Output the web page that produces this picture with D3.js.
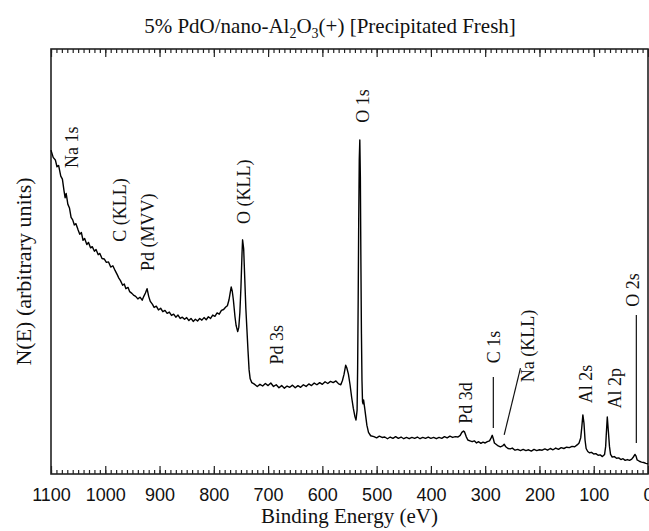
<!DOCTYPE html>
<html>
<head>
<meta charset="utf-8">
<script src="https://cdn.jsdelivr.net/npm/d3@7"></script>
<style>
  body { margin: 0; background: #fff; }
  .serif { font-family: "Liberation Serif", "Times New Roman", serif; fill: #111; }
  .tick text { font-family: "Liberation Sans", Arial, sans-serif; font-size: 18px; fill: #111; }
  .tick line { stroke: #222; stroke-width: 1.2; }
  .domain { display: none; }
</style>
</head>
<body>
<svg id="chart" width="649" height="531"></svg>
<script>
// binding energy (eV) and N(E)
var energy = [
  1100, 1096, 1092, 1089, 1086, 1082, 1079, 1076, 1074, 1072, 1069, 1066, 1063, 1060, 1057, 1054,
  1050, 1047, 1044, 1041, 1038, 1034, 1031, 1027, 1024, 1020, 1017, 1013, 1010, 1006, 1002, 998,
  994, 990, 986, 982, 978, 975, 972, 968, 965, 962, 958, 955, 951, 948, 944, 940, 936, 932, 929,
  926, 923, 920, 917, 913, 910, 906, 902, 898, 894, 890, 886, 882, 878, 874, 870, 866, 862, 858,
  854, 850, 846, 842, 838, 834, 830, 826, 822, 818, 814, 810, 806, 802, 798, 794, 790, 786, 782,
  778, 775, 772, 770, 768, 766, 764, 761, 759, 756, 754, 752, 750, 748, 747, 745, 743, 741, 739,
  737, 735, 733, 730, 726, 720, 715, 710, 705, 700, 695, 690, 685, 680, 675, 670, 665, 660, 655,
  650, 645, 640, 635, 630, 625, 620, 615, 610, 605, 600, 595, 590, 585, 580, 575, 570, 566, 563,
  560, 557, 555, 552, 549, 546, 543, 540, 538, 536, 535, 534, 533, 532, 531, 530, 529, 528, 527,
  526, 525, 524, 522, 520, 518, 515, 511, 505, 500, 495, 490, 485, 480, 475, 470, 465, 460, 455,
  450, 445, 440, 435, 430, 425, 420, 415, 410, 405, 400, 395, 390, 385, 380, 375, 370, 365, 360,
  355, 350, 346, 343, 340, 338, 335, 332, 328, 324, 320, 316, 312, 308, 304, 300, 296, 292, 289,
  287, 285, 283, 280, 276, 272, 268, 265, 262, 258, 254, 250, 245, 240, 235, 230, 225, 220, 215,
  210, 205, 200, 195, 190, 185, 180, 175, 170, 165, 160, 155, 150, 145, 140, 135, 130, 127, 124,
  122, 120, 118, 116, 114, 111, 108, 104, 100, 96, 92, 88, 84, 80, 78, 77, 75, 73, 71, 69, 66,
  62, 58, 54, 50, 46, 42, 38, 34, 30, 27, 24, 22, 20, 16, 12, 8, 4, 0
];
var counts = [
  76.2, 74.5, 73.9, 72.3, 72.6, 70.1, 69.4, 66.6, 65.0, 66.0, 63.5, 62.6, 60.4, 59.8, 58.6, 58.9,
  57.4, 56.4, 56.8, 55.0, 55.4, 54.0, 54.5, 53.2, 53.5, 52.4, 52.8, 51.6, 51.9, 50.7, 50.6, 49.8,
  49.9, 48.7, 49.0, 47.9, 46.9, 46.1, 45.5, 44.4, 44.7, 43.6, 43.9, 42.9, 42.5, 42.1, 41.8, 41.2, 41.6, 40.9, 41.8,
  42.6, 43.6, 41.8, 40.6, 39.9, 39.2, 39.5, 38.6, 39.0, 38.2, 38.5, 37.8, 38.1, 37.3, 37.6, 36.9, 37.4, 36.6, 36.9,
  36.4, 36.8, 36.1, 36.6, 35.9, 36.4, 36.0, 36.6, 36.2, 36.8, 36.3, 37.0, 36.6, 37.4, 37.1, 37.9, 37.6, 38.5, 38.7,
  39.3, 39.6, 41.0, 42.5, 44.0, 43.0, 41.0, 37.0, 35.0, 33.5, 34.5, 38.0, 44.0, 52.0, 55.1, 53.0, 46.0, 39.0, 34.0,
  29.0, 24.5, 22.4, 21.5, 21.2, 20.6, 21.1, 20.7, 21.3, 20.8, 21.4, 20.6, 21.0, 20.3, 20.8, 20.2, 20.7, 20.4, 20.9,
  20.3, 20.8, 20.4, 21.0, 20.6, 21.2, 20.8, 21.4, 21.0, 21.5, 21.1, 21.7, 21.3, 21.8, 21.5, 21.9, 21.2, 21.0, 22.0,
  23.5, 25.6, 25.0, 23.5, 21.0, 18.0, 15.5, 13.5, 12.7, 15.0, 25.0, 41.0, 60.0, 74.0, 78.6, 70.0, 50.0, 33.0, 22.0,
  17.0, 16.5, 17.4, 15.5, 13.5, 11.5, 9.8, 9.0, 8.8, 8.5, 8.9, 8.6, 8.7, 8.3, 8.7, 8.4, 8.8, 8.4, 8.7,
  8.3, 8.6, 8.3, 8.6, 8.4, 8.7, 8.3, 8.6, 8.4, 8.7, 8.4, 8.6, 8.3, 8.6, 8.4, 8.8, 8.5, 8.9, 8.6,
  8.8, 8.7, 9.1, 9.8, 10.1, 9.9, 8.8, 8.0, 7.8, 7.6, 7.8, 7.3, 7.6, 7.2, 7.5, 7.3, 7.6, 7.8, 8.5,
  9.1, 8.3, 7.3, 7.0, 6.6, 6.4, 6.6, 7.0, 6.4, 6.0, 5.9, 6.1, 5.6, 5.8, 5.5, 5.8, 5.5, 5.7, 5.4,
  5.8, 5.5, 5.7, 5.6, 5.9, 5.6, 6.0, 5.7, 6.1, 5.8, 6.2, 6.0, 6.3, 6.2, 6.5, 6.4, 6.9, 7.3, 8.5,
  11.0, 13.9, 12.0, 8.0, 6.0, 5.3, 5.0, 5.1, 4.7, 4.8, 4.4, 4.5, 4.1, 4.6, 6.5, 9.0, 13.4, 10.0, 6.5, 4.6, 4.0,
  4.1, 3.7, 3.8, 3.4, 3.6, 3.2, 3.4, 3.2, 3.5, 4.0, 4.6, 4.2, 3.3, 3.0, 2.8, 2.7, 2.5, 2.4
];

// peak labels: text, energy of the label, height of label centre
var peakNames  = ["Na 1s", "C (KLL)", "Pd (MVV)", "O (KLL)", "O 1s", "Pd 3s", "Pd 3d", "C 1s", "Na (KLL)", "Al 2s", "Al 2p", "O 2s"];
var peakEnergy = [1061, 972, 922, 745, 526, 683, 335, 283, 222, 114, 61, 27];
var peakHeight = [76.9, 62.1, 56.9, 66.4, 86.6, 30.4, 16.7, 29.9, 30.1, 21.2, 20.2, 43.3];

// leader lines [E1, v1, E2, v2]
var leaders = [
  [285, 22.8, 285, 10.8],
  [235, 24.9, 265, 9.2],
  [21.5, 37.4, 21.5, 7.3]
];

var majorTicks = d3.range(1100, -1, -100);
var minorTicks = d3.range(1100, -1, -10);

var margin = {top: 49, right: 1, bottom: 57, left: 51};
var width = 649 - margin.left - margin.right;
var height = 531 - margin.top - margin.bottom;

var svg = d3.select('#chart');
var g = svg.append('g')
    .attr('transform', `translate(${margin.left},${margin.top})`);

var x = d3.scaleLinear().domain([1100, 0]).range([0, width]);
var y = d3.scaleLinear().domain([0, 100]).range([height, 0]);

// minor ticks, bottom and top, pointing inward
g.append('g')
    .attr('transform', `translate(0,${height})`)
    .call(d3.axisBottom(x).tickValues(minorTicks).tickSize(-4).tickFormat(''));
g.append('g')
    .call(d3.axisTop(x).tickValues(minorTicks).tickSize(-4).tickFormat(''));

// major ticks with labels
g.append('g')
    .attr('transform', `translate(0,${height})`)
    .call(d3.axisBottom(x).tickValues(majorTicks).tickSize(-8).tickPadding(14).tickFormat(d3.format('d')));
g.append('g')
    .call(d3.axisTop(x).tickValues(majorTicks).tickSize(-8).tickFormat(''));

g.selectAll('.tick text').attr('dy', '0.71em');

// frame
g.append('rect')
    .attr('width', width)
    .attr('height', height)
    .attr('fill', 'none')
    .attr('stroke', '#222')
    .attr('stroke-width', 1.6);

var line = d3.line()
    .x((d, i) => x(energy[i]))
    .y((d) => y(d));

g.append('path')
    .datum(counts)
    .attr('fill', 'none')
    .attr('stroke', '#000')
    .attr('stroke-width', 1.4)
    .attr('stroke-linejoin', 'round')
    .attr('d', line);

g.selectAll('.leader')
    .data(leaders)
    .enter()
    .append('line')
    .attr('x1', (d) => x(d[0]))
    .attr('y1', (d) => y(d[1]))
    .attr('x2', (d) => x(d[2]))
    .attr('y2', (d) => y(d[3]))
    .attr('stroke', '#111')
    .attr('stroke-width', 1.2);

g.selectAll('.peak')
    .data(peakNames)
    .enter()
    .append('text')
    .attr('class', 'serif')
    .style('font-size', '18px')
    .attr('text-anchor', 'middle')
    .attr('dominant-baseline', 'central')
    .attr('transform', (d, i) => `translate(${x(peakEnergy[i])},${y(peakHeight[i])})rotate(-90)`)
    .text((d) => d);

// title with subscripts
var title = svg.append('text')
    .attr('class', 'serif')
    .attr('x', 330)
    .attr('y', 33)
    .attr('text-anchor', 'middle')
    .style('font-size', '21px');
title.append('tspan').text('5% PdO/nano-Al');
title.append('tspan').attr('dy', 5).style('font-size', '14px').text('2');
title.append('tspan').attr('dy', -5).text('O');
title.append('tspan').attr('dy', 5).style('font-size', '14px').text('3');
title.append('tspan').attr('dy', -5).text('(+) [Precipitated Fresh]');

svg.append('text')
    .attr('class', 'serif')
    .attr('x', margin.left + width / 2)
    .attr('y', 523)
    .attr('text-anchor', 'middle')
    .style('font-size', '21px')
    .text('Binding Energy (eV)');

svg.append('text')
    .attr('class', 'serif')
    .attr('transform', `translate(23,${margin.top + height / 2 + 10})rotate(-90)`)
    .attr('text-anchor', 'middle')
    .attr('dominant-baseline', 'central')
    .style('font-size', '22px')
    .text('N(E) (arbitrary units)');
</script>
</body>
</html>
